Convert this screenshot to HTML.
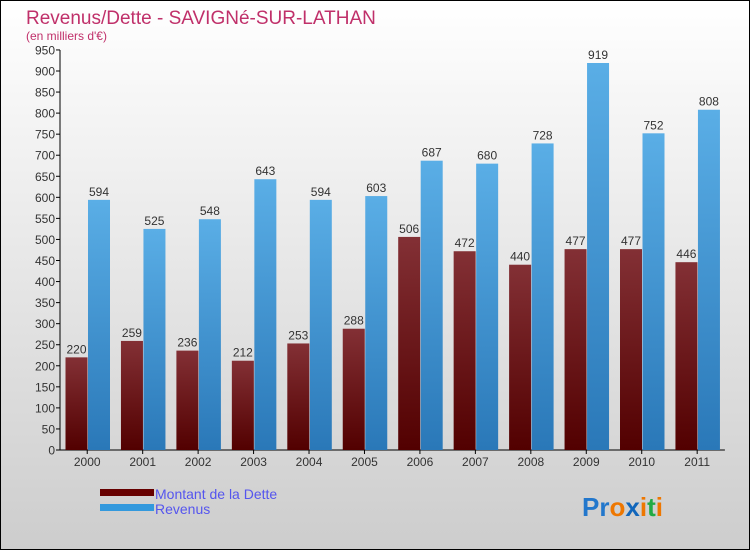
<!DOCTYPE html>
<html><head><meta charset="utf-8"><style>
body{margin:0;}
#chart{position:relative;width:750px;height:550px;}
text{font-family:"Liberation Sans",sans-serif;}
</style></head><body>
<div id="chart">
<svg id="svg" width="750" height="550" xmlns="http://www.w3.org/2000/svg">
<defs>
<linearGradient id="bg" x1="0" y1="0" x2="0" y2="1"><stop offset="0" stop-color="#ffffff"/><stop offset="1" stop-color="#cdcdcd"/></linearGradient>
<linearGradient id="gd" x1="0" y1="0" x2="0" y2="1"><stop offset="0" stop-color="#833035"/><stop offset="1" stop-color="#520000"/></linearGradient>
<linearGradient id="gr" x1="0" y1="0" x2="0" y2="1"><stop offset="0" stop-color="#5aaee6"/><stop offset="1" stop-color="#2a78b8"/></linearGradient>
</defs>
<rect x="0.5" y="0.5" width="749" height="549" fill="url(#bg)" stroke="#000"/>
<text x="26" y="24" font-size="19" fill="#c0306a">Revenus/Dette - SAVIGNé-SUR-LATHAN</text>
<text x="26" y="40" font-size="12" fill="#c0306a">(en milliers d'€)</text>
<g id="axes"></g><g id="bars"></g>
<rect x="100" y="489" width="54" height="7" fill="#660000"/>
<text x="155" y="499" font-size="14" fill="#5555ee">Montant de la Dette</text>
<rect x="100" y="504" width="54" height="7" fill="#3399dd"/>
<text x="155" y="514" font-size="14" fill="#5555ee">Revenus</text>
<text x="582" y="516" font-size="26" font-weight="bold"><tspan fill="#2277cc">Pr</tspan><tspan fill="#ee7700">o</tspan><tspan fill="#1166bb">x</tspan><tspan fill="#ee7700">i</tspan><tspan fill="#22aa44">t</tspan><tspan fill="#ee7700">i</tspan></text>
</svg></div>
<script>
const years=["2000","2001","2002","2003","2004","2005","2006","2007","2008","2009","2010","2011"];
const dette=[220,259,236,212,253,288,506,472,440,477,477,446];
const revenus=[594,525,548,643,594,603,687,680,728,919,752,808];
const ticks=[0,50,100,150,200,250,300,350,400,450,500,550,600,650,700,750,800,850,900,950];
const NS="http://www.w3.org/2000/svg";
const x0=59.5,gw=55.45,y0=450,ys=(450-71)/900;
const Y=v=>y0-v*ys, X=i=>x0+gw*i;
const ax=document.getElementById('axes'),bg=document.getElementById('bars');
function mk(tag,at,p,txt){const e=document.createElementNS(NS,tag);for(const k in at)e.setAttribute(k,at[k]);if(txt!=null)e.textContent=txt;p.appendChild(e);return e;}
let l=mk('line',{x1:60,y1:Y(950),x2:60,y2:450,stroke:'#000'},ax);


l=mk('line',{x1:60,y1:450,x2:X(12),y2:450,stroke:'#000'},ax);


ticks.forEach(t=>{
 mk('line',{x1:56,x2:60,y1:Y(t),y2:Y(t),stroke:'#000'},ax);
 const e=mk('text',{x:55,y:Y(t)+4.5,'font-size':12,'text-anchor':'end',fill:'#333'},ax,t);
 
 
});
years.forEach((yr,i)=>{
 const c=X(i)+gw/2;
 mk('line',{x1:c,x2:c,y1:450,y2:454,stroke:'#000'},ax);
 const e=mk('text',{x:c,y:466,'font-size':12,'text-anchor':'middle',fill:'#333'},ax,yr);
 
 
 const d=mk('rect',{x:X(i)+6,y:Y(dette[i]),width:22,height:y0-Y(dette[i]),fill:'url(#gd)'},bg);
 
 
 const r=mk('rect',{x:X(i)+28.5,y:Y(revenus[i]),width:22,height:y0-Y(revenus[i]),fill:'url(#gr)'},bg);
 
 
 const t1=mk('text',{x:X(i)+17,y:Y(dette[i])-4,'font-size':12,'text-anchor':'middle',fill:'#333'},bg,dette[i]);
 
 
 const t2=mk('text',{x:X(i)+39.5,y:Y(revenus[i])-4,'font-size':12,'text-anchor':'middle',fill:'#333'},bg,revenus[i]);
 
 
});
</script>
</body></html>
